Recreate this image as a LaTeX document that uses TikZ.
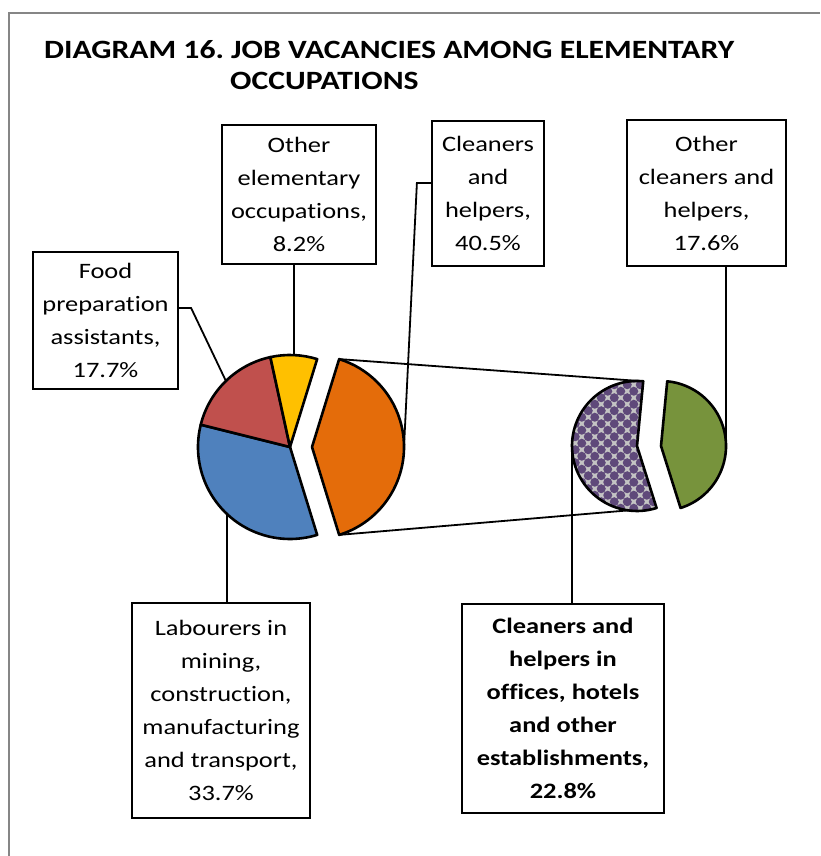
\documentclass[tikz,border=0pt]{standalone}
\usepackage{fontspec}
\setmainfont{Carlito}[FakeStretch=1.2, Ligatures=NoCommon]
\usetikzlibrary{calc, positioning, patterns}
\frenchspacing

\definecolor{blueslice}{RGB}{79,129,189}
\definecolor{redslice}{RGB}{192,80,77}
\definecolor{yellowslice}{RGB}{255,192,0}
\definecolor{orangeslice}{RGB}{228,108,10}
\definecolor{greenslice}{RGB}{119,147,60}
\definecolor{purpleslice}{RGB}{95,73,122}
\definecolor{checkgray}{RGB}{196,196,196}
\definecolor{framegray}{RGB}{134,134,134}

\pgfdeclarepatternformonly{dotchecker}{\pgfpoint{-2pt}{-2pt}}{\pgfpoint{15pt}{15pt}}{\pgfpoint{13pt}{13pt}}{
  \pgfpathcircle{\pgfpoint{3.25pt}{3.25pt}}{4.5pt}
  \pgfpathcircle{\pgfpoint{9.75pt}{9.75pt}}{4.5pt}
  \pgfusepath{fill}
}

\tikzset{
  slice/.style={draw=black, line width=2.6pt, line join=round},
  lbl/.style={draw=black, line width=2.2pt, fill=white, align=center, inner sep=0pt,
    font=\fontsize{22pt}{33pt}\selectfont},
  leader/.style={draw=black, line width=1.8pt},
  ttl/.style={anchor=base west, inner sep=0pt, font=\fontsize{26.4pt}{30pt}\selectfont\bfseries},
}

\begin{document}
\begin{tikzpicture}[x=1pt, y=1pt]
            \useasboundingbox (0,0) rectangle (820,856);
            \fill[white] (0,0) rectangle (820,856);
            \draw[framegray, line width=2pt] (9,0) -- (9,843.3) -- (820,843.3);

            \node[ttl] (title) at (44,797) {DIAGRAM 16. JOB VACANCIES AMONG ELEMENTARY};
            \node[ttl] (titleb) at (230,766) {OCCUPATIONS};

            \coordinate (mainc) at (290,409);
            \coordinate (orc) at (312,409);
            \coordinate (patc) at (637,410);
            \coordinate (grc) at (661,410);

            \coordinate (ortop) at ($(orc)+(72.83:92)$);
            \coordinate (orbot) at ($(orc)+(-72.83:92)$);
            \coordinate (pattop) at ($(patc)+(84.5:65)$);
            \coordinate (patbot) at ($(patc)+(287.5:65)$);
            \draw[leader] (ortop) -- (pattop);
            \draw[leader] (orbot) -- (patbot);

            \filldraw[slice, fill=blueslice] (mainc) -- ++(165.98:92) arc[start angle=165.98, end angle=287.18, radius=92] -- cycle;
            \filldraw[slice, fill=redslice] (mainc) -- ++(102.32:92) arc[start angle=102.32, end angle=165.98, radius=92] -- cycle;
            \filldraw[slice, fill=yellowslice] (mainc) -- ++(72.83:92) arc[start angle=72.83, end angle=102.32, radius=92] -- cycle;
            \filldraw[slice, fill=orangeslice] (orc) -- (orbot) arc[start angle=-72.83, end angle=72.83, radius=92] -- cycle;
            \draw[slice, preaction={fill=checkgray}, pattern=dotchecker, pattern color=purpleslice] (patc) -- (pattop) arc[start angle=84.5, end angle=287.5, radius=65] -- cycle;
            \filldraw[slice, fill=greenslice] (grc) -- ++(-72.5:65) arc[start angle=-72.5, end angle=84.5, radius=65] -- cycle;

            \coordinate (bluemid) at ($(mainc)+(226.58:92)$);
            \coordinate (redmid) at ($(mainc)+(134.15:92)$);
            \coordinate (yelmid) at ($(mainc)+(87.58:92)$);
            \coordinate (ormid) at ($(orc)+(0:92)$);
            \coordinate (patmid) at ($(patc)+(186:65)$);
            \coordinate (grmid) at ($(grc)+(6:65)$);

            \node[lbl, minimum width=145pt, minimum height=137pt] (food) at (105.5,535.5) {Food\\preparation\\assistants,\\17.7\%};
            \node[lbl, minimum width=154pt, minimum height=139pt] (othelem) at (299,661.5) {Other\\elementary\\occupations,\\8.2\%};
            \node[lbl, minimum width=112pt, minimum height=145pt] (clean) at (488,662.5) {Cleaners\\and\\helpers,\\40.5\%};
            \node[lbl, minimum width=159pt, minimum height=146pt] (othclean) at (706.5,663) {Other\\cleaners and\\helpers,\\17.6\%};
            \node[lbl, minimum width=178pt, minimum height=215pt] (labour) at (221,145.5) {Labourers in\\mining,\\construction,\\manufacturing\\and transport,\\33.7\%};
            \node[lbl, minimum width=202pt, minimum height=209pt, font=\fontsize{22pt}{33pt}\selectfont\bfseries] (office) at (563,147.5) {Cleaners and\\helpers in\\offices, hotels\\and other\\establishments,\\22.8\%};

            \draw[leader] ([yshift=12.5pt]food.east) -- ++(12,0) -- (redmid);
            \draw[leader] (yelmid |- othelem.south) -- (yelmid);
            \draw[leader] ([yshift=10.5pt]clean.west) -- ++(-14,0) -- (ormid);
            \draw[leader] (grmid |- othclean.south) -- (grmid);
            \draw[leader] (bluemid) -- (bluemid |- labour.north);
            \draw[leader] (patmid) -- (patmid |- office.north);
        \end{tikzpicture}
\end{document}
